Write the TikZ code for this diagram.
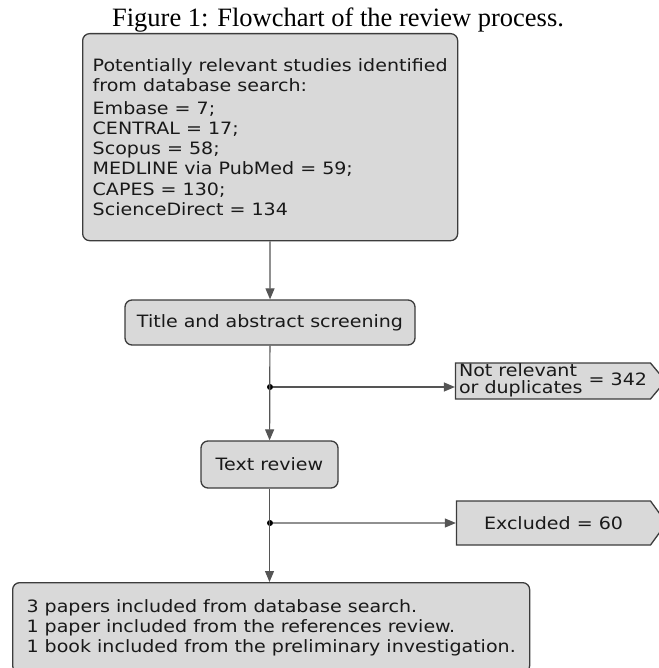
\documentclass[tikz,border=0pt]{standalone}
\usepackage{fontspec}
\usepackage{xcolor}
\usepackage{tikz}
\usetikzlibrary{arrows.meta,shapes.symbols}
\setmainfont{Liberation Serif}
\newfontfamily\boxfont[FakeStretch=1.12]{DejaVu Sans}
\definecolor{boxfill}{HTML}{D9D9D9}
\definecolor{boxline}{HTML}{3C3C3C}
\definecolor{flowline}{HTML}{555555}
\tikzset{
    stagebox/.style={draw=boxline,fill=boxfill,line width=1.3pt,rounded corners=7pt,
        font=\boxfont\fontsize{17}{20.3}\selectfont,text=black!90,inner sep=0pt},
    countbox/.style={draw=boxline,fill=boxfill,line width=1.3pt,shape=signal,signal to=east,
        font=\boxfont\fontsize{17}{20.3}\selectfont,text=black!90,inner sep=0pt,minimum width=210},
    flow/.style={draw=flowline,line width=1.2pt,-{Triangle[length=11pt,width=9pt]}},
    junction/.style={circle,fill=black,inner sep=0pt,minimum size=6pt}
}

\begin{document}
\begin{tikzpicture}[x=1pt,y=-1pt]
            \useasboundingbox (0,0) rectangle (658,668);

            \node[anchor=base,font=\fontsize{26.5}{30}\selectfont] (caption) at (338,27) {Figure 1: Flowchart of the review process.};

            \node[stagebox,anchor=north west,minimum width=375,minimum height=207,align=left] (search) at (82,33)
                {Potentially relevant studies identified\\from database search:\\[2pt]Embase = 7;\\CENTRAL = 17;\\Scopus = 58;\\MEDLINE via PubMed = 59;\\CAPES = 130;\\ScienceDirect = 134};
            \node[stagebox,minimum width=290,minimum height=45] (screen) at (270,322.5) {Title and abstract screening};
            \node[stagebox,minimum width=137,minimum height=47] (textrev) at (269.5,464.5) {Text review};
            \node[stagebox,anchor=north west,minimum width=517,minimum height=90,align=left] (incl) at (12,582)
                {3 papers included from database search.\\1 paper included from the references review.\\1 book included from the preliminary investigation.};

            \node[countbox,minimum height=36,signal pointer angle=100] (notrel) at (553,381)
                {\def\arraystretch{0.79}\begin{tabular}{@{}l@{}}Not relevant\\or duplicates\end{tabular} = 342};
            \node[countbox,minimum height=44,signal pointer angle=108] (excl) at (553.5,523) {Excluded = 60};

            \node[junction] (d1) at (270,387) {};
            \node[junction] (d2) at (270,523) {};

            \draw[flow] (search) -- (screen);
            \draw[flow] (screen) -- (textrev);
            \draw[flow] (textrev) -- (textrev |- incl.north);
            \draw[flow] (d1) -- (d1 -| notrel.west);
            \draw[flow] (d2) -- (excl);
        \end{tikzpicture}
\end{document}
